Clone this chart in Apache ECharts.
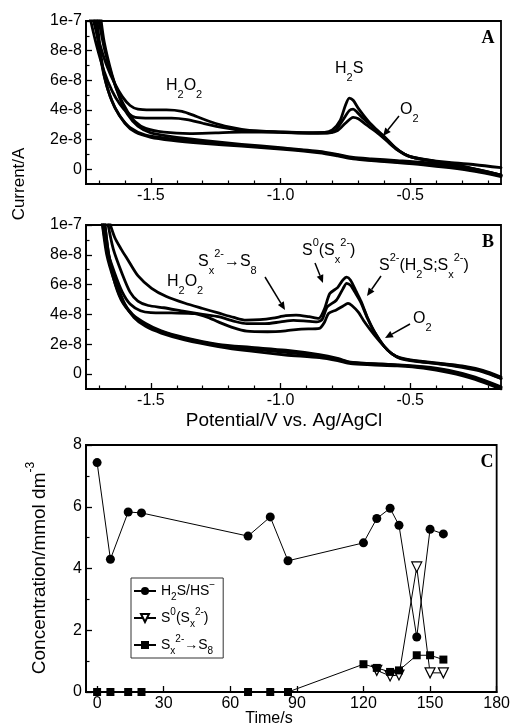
<!DOCTYPE html>
<html>
<head>
<meta charset="utf-8">
<script src="https://cdn.jsdelivr.net/npm/echarts@6/dist/echarts.min.js"></script>
<style>
html,body{margin:0;padding:0;background:#fff;}
#chart{width:513px;height:728px;}
</style>
</head>
<body>
<div id="chart"></div>
<script>
// ---------- DATA ----------
// Panels A and B: cyclic voltammograms, [potential V vs Ag/AgCl, current in units of 1e-8 A]
var cvA1Upper = [[-1.728,10.5],[-1.70,8.6],[-1.67,7.0],[-1.64,5.8],[-1.61,4.9],[-1.58,4.3],[-1.55,4.05],[-1.50,4.0],[-1.44,4.0],[-1.38,3.9],[-1.33,3.6],[-1.27,3.2],[-1.20,2.85],[-1.12,2.62],[-1.0,2.52],[-0.90,2.47],[-0.83,2.48],[-0.80,2.65],[-0.77,3.3],[-0.75,4.3],[-0.735,4.8],[-0.72,4.65],[-0.70,4.1],[-0.66,3.2],[-0.62,2.5],[-0.58,1.8],[-0.54,1.2],[-0.50,0.85],[-0.45,0.68],[-0.35,0.45],[-0.25,0.3],[-0.15,0.1]];
var cvA1Lower = [[-0.15,-0.45],[-0.25,-0.1],[-0.35,0.15],[-0.45,0.35],[-0.55,0.5],[-0.65,0.62],[-0.72,0.75],[-0.78,0.95],[-0.85,1.15],[-1.0,1.4],[-1.15,1.6],[-1.3,1.85],[-1.42,2.05],[-1.52,2.3],[-1.58,2.8],[-1.62,3.6],[-1.65,4.6],[-1.68,6.3],[-1.70,8.2],[-1.718,10.5]];
var cvA2Upper = [[-1.738,10.5],[-1.71,8.4],[-1.68,6.6],[-1.65,5.3],[-1.62,4.4],[-1.59,3.8],[-1.56,3.5],[-1.50,3.45],[-1.42,3.45],[-1.36,3.35],[-1.30,3.1],[-1.22,2.8],[-1.14,2.6],[-1.0,2.5],[-0.90,2.45],[-0.82,2.45],[-0.79,2.6],[-0.76,3.3],[-0.735,3.95],[-0.72,4.05],[-0.705,3.85],[-0.68,3.4],[-0.64,2.8],[-0.60,2.2],[-0.56,1.5],[-0.52,1.0],[-0.48,0.75],[-0.40,0.5],[-0.30,0.2],[-0.15,-0.4]];
var cvA2Lower = [[-0.15,-0.5],[-0.25,-0.15],[-0.35,0.1],[-0.45,0.3],[-0.55,0.45],[-0.65,0.58],[-0.72,0.7],[-0.78,0.9],[-0.85,1.1],[-1.0,1.35],[-1.15,1.55],[-1.3,1.75],[-1.42,1.95],[-1.50,2.15],[-1.56,2.5],[-1.60,3.1],[-1.64,4.2],[-1.67,5.6],[-1.69,7.4],[-1.71,10.5]];
var cvA3Upper = [[-1.705,10.5],[-1.68,8.2],[-1.65,6.3],[-1.62,4.9],[-1.59,3.9],[-1.56,3.2],[-1.52,2.75],[-1.45,2.5],[-1.35,2.4],[-1.25,2.45],[-1.15,2.5],[-1.0,2.48],[-0.88,2.42],[-0.81,2.45],[-0.78,2.6],[-0.75,3.1],[-0.72,3.5],[-0.70,3.4],[-0.67,3.0],[-0.63,2.5],[-0.59,1.9],[-0.55,1.3],[-0.51,0.9],[-0.46,0.7],[-0.38,0.45],[-0.28,0.1],[-0.15,-0.4]];
var cvA3Lower = [[-0.15,-0.4],[-0.25,0.0],[-0.35,0.25],[-0.45,0.45],[-0.55,0.58],[-0.65,0.7],[-0.72,0.8],[-0.78,1.0],[-0.85,1.2],[-1.0,1.45],[-1.15,1.68],[-1.3,1.95],[-1.42,2.2],[-1.50,2.45],[-1.55,2.9],[-1.59,3.7],[-1.62,4.8],[-1.65,6.4],[-1.68,8.6],[-1.695,10.5]];

var cvB1Upper = [[-1.665,10.5],[-1.64,9.2],[-1.615,8.4],[-1.59,7.7],[-1.55,6.6],[-1.497,5.75],[-1.44,5.2],[-1.368,4.75],[-1.30,4.4],[-1.24,4.1],[-1.18,3.8],[-1.134,3.62],[-1.08,3.65],[-1.03,3.75],[-0.98,3.92],[-0.94,3.96],[-0.89,3.85],[-0.853,3.74],[-0.83,4.4],[-0.81,5.4],[-0.78,5.8],[-0.76,6.3],[-0.745,6.5],[-0.73,6.3],[-0.71,5.6],[-0.69,4.9],[-0.665,3.8],[-0.64,2.9],[-0.60,1.85],[-0.57,1.35],[-0.54,1.1],[-0.48,0.9],[-0.40,0.75],[-0.30,0.55],[-0.22,0.25],[-0.15,-0.2]];
var cvB1Lower = [[-0.15,-0.9],[-0.25,-0.25],[-0.35,0.2],[-0.45,0.45],[-0.55,0.6],[-0.65,0.7],[-0.73,0.8],[-0.78,1.05],[-0.85,1.3],[-0.98,1.6],[-1.12,1.8],[-1.24,2.0],[-1.37,2.45],[-1.46,2.9],[-1.52,3.4],[-1.57,4.0],[-1.61,4.9],[-1.64,6.2],[-1.67,8.0],[-1.69,10.5]];
var cvB2Upper = [[-1.67,10.5],[-1.645,8.4],[-1.61,6.7],[-1.58,5.5],[-1.55,4.9],[-1.51,4.6],[-1.45,4.45],[-1.37,4.2],[-1.30,4.0],[-1.24,3.85],[-1.18,3.55],[-1.13,3.38],[-1.06,3.38],[-1.0,3.5],[-0.95,3.6],[-0.90,3.55],[-0.86,3.5],[-0.84,3.65],[-0.82,4.5],[-0.785,4.95],[-0.76,5.7],[-0.745,6.09],[-0.73,5.95],[-0.71,5.4],[-0.69,4.8],[-0.665,3.75],[-0.64,2.9],[-0.60,1.85],[-0.57,1.35],[-0.54,1.08],[-0.48,0.88],[-0.40,0.72],[-0.30,0.5],[-0.22,0.2],[-0.15,-0.3]];
var cvB2Lower = [[-0.15,-1.0],[-0.25,-0.35],[-0.35,0.1],[-0.45,0.4],[-0.55,0.55],[-0.65,0.62],[-0.73,0.7],[-0.78,0.9],[-0.85,1.1],[-0.98,1.28],[-1.12,1.55],[-1.24,1.85],[-1.37,2.3],[-1.46,2.75],[-1.52,3.2],[-1.565,3.8],[-1.60,4.7],[-1.63,6.0],[-1.66,7.8],[-1.68,10.5]];
var cvB3Upper = [[-1.69,10.5],[-1.67,8.4],[-1.64,6.8],[-1.61,5.5],[-1.58,4.7],[-1.54,4.25],[-1.50,4.12],[-1.42,4.1],[-1.33,4.05],[-1.28,3.8],[-1.24,3.5],[-1.18,3.1],[-1.13,2.88],[-1.05,2.84],[-0.98,2.9],[-0.92,3.02],[-0.85,3.07],[-0.83,3.5],[-0.815,4.07],[-0.785,4.3],[-0.76,4.55],[-0.74,4.74],[-0.725,4.6],[-0.70,4.15],[-0.68,3.6],[-0.655,3.0],[-0.63,2.45],[-0.60,1.85],[-0.57,1.35],[-0.54,1.05],[-0.48,0.85],[-0.40,0.7],[-0.30,0.45],[-0.22,0.15],[-0.15,-0.3]];
var cvB3Lower = [[-0.15,-0.85],[-0.25,-0.2],[-0.35,0.25],[-0.45,0.5],[-0.55,0.62],[-0.65,0.7],[-0.73,0.78],[-0.78,1.0],[-0.85,1.2],[-0.98,1.45],[-1.12,1.7],[-1.24,1.95],[-1.37,2.4],[-1.46,2.85],[-1.52,3.3],[-1.57,3.95],[-1.615,5.0],[-1.645,6.5],[-1.665,8.3],[-1.68,10.5]];

// Panel C: concentrations (mmol dm^-3) vs time (s)
var timeH2S = [0, 6, 14, 20, 68, 78, 86, 120, 126, 132, 136, 144, 150, 156];
var concH2S = [7.43, 4.3, 5.83, 5.8, 5.05, 5.67, 4.25, 4.83, 5.62, 5.95, 5.4, 1.78, 5.27, 5.12];
var timeS0 = [126, 132, 136, 144, 150, 156];
var concS0 = [0.7, 0.52, 0.55, 4.05, 0.62, 0.62];
var timeS8 = [0, 6, 14, 20, 68, 78, 86, 120, 126, 132, 136, 144, 150, 156];
var concS8 = [0, 0, 0, 0, 0, 0, 0, 0.9, 0.78, 0.65, 0.7, 1.19, 1.19, 1.05];

// tick values
var potentialMajorTicks = [-1.5, -1.0, -0.5];
var potentialMinorTicks = [-1.7, -1.6, -1.4, -1.3, -1.2, -1.1, -0.9, -0.8, -0.7, -0.6, -0.4, -0.3, -0.2];
var currentMajorTicks = [0, 2, 4, 6, 8, 10];
var currentMinorTicks = [1, 3, 5, 7, 9];
var currentTickLabels = {0: '0', 2: '2e-8', 4: '4e-8', 6: '6e-8', 8: '8e-8', 10: '1e-7'};
var timeTicks = [0, 30, 60, 90, 120, 150, 180];
var concMajorTicks = [0, 2, 4, 6, 8];
var concMinorTicks = [1, 3, 5, 7];

// ---------- CHART ----------
var chart = echarts.init(document.getElementById('chart'), null, {renderer: 'canvas'});
var FONT = '"Liberation Sans", Arial, Helvetica, sans-serif';
var SERIF = '"Liberation Serif", "Times New Roman", serif';

function zip(xs, ys) { return xs.map(function (x, i) { return [x, ys[i]]; }); }

var grids = [
  {left: 86, top: 21, width: 415, height: 163},
  {left: 86, top: 225, width: 415, height: 164},
  {left: 86, top: 445, width: 414, height: 247}
].map(function (g) {
  return Object.assign({show: true, borderColor: '#000', borderWidth: 1.8, backgroundColor: 'transparent'}, g);
});

function xMain(gi, min, max, labels, ticks, fmt) {
  return {
    type: 'value', gridIndex: gi, min: min, max: max, position: 'bottom',
    axisLine: {show: true, onZero: false, lineStyle: {color: '#000', width: 1.8}},
    axisTick: {show: true, inside: true, length: 6, customValues: ticks, lineStyle: {color: '#000', width: 1.3}},
    axisLabel: {show: true, customValues: labels, color: '#000', fontFamily: FONT, fontSize: 16, margin: 4, formatter: fmt},
    splitLine: {show: false}
  };
}
function xMinor(gi, min, max, ticks) {
  return {
    type: 'value', gridIndex: gi, min: min, max: max, position: 'bottom',
    axisLine: {show: false, onZero: false},
    axisTick: {show: true, inside: true, length: 3.5, customValues: ticks, lineStyle: {color: '#000', width: 1.2}},
    axisLabel: {show: false}, splitLine: {show: false}
  };
}
function yMain(gi, min, max, labels, fmt) {
  return {
    type: 'value', gridIndex: gi, min: min, max: max, position: 'left',
    axisLine: {show: true, onZero: false, lineStyle: {color: '#000', width: 1.8}},
    axisTick: {show: true, inside: true, length: 6, customValues: labels, lineStyle: {color: '#000', width: 1.3}},
    axisLabel: {show: true, customValues: labels, color: '#000', fontFamily: FONT, fontSize: 16, margin: 4, formatter: fmt},
    splitLine: {show: false}
  };
}
function yMinor(gi, min, max, ticks) {
  return {
    type: 'value', gridIndex: gi, min: min, max: max, position: 'left',
    axisLine: {show: false, onZero: false},
    axisTick: {show: true, inside: true, length: 3.5, customValues: ticks, lineStyle: {color: '#000', width: 1.2}},
    axisLabel: {show: false}, splitLine: {show: false}
  };
}

var potFmt = function (v) { return v.toFixed(1); };
var curFmt = function (v) { return currentTickLabels[Math.round(v)]; };

var xAxes = [
  xMain(0, -1.75, -0.15, potentialMajorTicks, potentialMajorTicks, potFmt),
  xMinor(0, -1.75, -0.15, potentialMinorTicks),
  xMain(1, -1.75, -0.15, potentialMajorTicks, potentialMajorTicks, potFmt),
  xMinor(1, -1.75, -0.15, potentialMinorTicks),
  xMain(2, -5, 180, timeTicks, timeTicks, function (v) { return String(v); })
];
var yAxes = [
  yMain(0, -1, 10, currentMajorTicks, curFmt),
  yMinor(0, -1, 10, currentMinorTicks),
  yMain(1, -1, 10, currentMajorTicks, curFmt),
  yMinor(1, -1, 10, currentMinorTicks),
  yMain(2, 0, 8, concMajorTicks, function (v) { return String(v); }),
  yMinor(2, 0, 8, concMinorTicks)
];

function cvSeries(data, gi) {
  return {
    type: 'line', xAxisIndex: gi * 2, yAxisIndex: gi * 2, data: data,
    showSymbol: false, symbol: 'none', smooth: 0.25, clip: true, silent: true,
    lineStyle: {color: '#000', width: 2.8, cap: 'round', join: 'round'},
    animation: false
  };
}

var series = [
  cvSeries(cvA1Upper, 0), cvSeries(cvA1Lower, 0),
  cvSeries(cvA2Upper, 0), cvSeries(cvA2Lower, 0),
  cvSeries(cvA3Upper, 0), cvSeries(cvA3Lower, 0),
  cvSeries(cvB1Upper, 1), cvSeries(cvB1Lower, 1),
  cvSeries(cvB2Upper, 1), cvSeries(cvB2Lower, 1),
  cvSeries(cvB3Upper, 1), cvSeries(cvB3Lower, 1),
  {
    name: 'h2s', type: 'line', xAxisIndex: 4, yAxisIndex: 4, data: zip(timeH2S, concH2S),
    symbol: 'circle', symbolSize: 9, clip: false,
    lineStyle: {color: '#000', width: 1}, itemStyle: {color: '#000'}, animation: false
  },
  {
    name: 's0', type: 'line', xAxisIndex: 4, yAxisIndex: 4, data: zip(timeS0, concS0),
    symbol: 'triangle', symbolRotate: 180, symbolSize: 10, clip: false,
    lineStyle: {color: '#000', width: 1}, itemStyle: {color: '#fff', borderColor: '#000', borderWidth: 1.2}, animation: false
  },
  {
    name: 's8', type: 'line', xAxisIndex: 4, yAxisIndex: 4, data: zip(timeS8, concS8),
    symbol: 'rect', symbolSize: 8, clip: false,
    lineStyle: {color: '#000', width: 1}, itemStyle: {color: '#000'}, animation: false
  }
];

function makeRich(main, small, lh, slh) {
  return {
    n: {fontFamily: FONT, fontSize: main, color: '#000', lineHeight: lh, verticalAlign: 'middle'},
    sub: {fontFamily: FONT, fontSize: small, color: '#000', lineHeight: slh, verticalAlign: 'bottom'},
    sup: {fontFamily: FONT, fontSize: small, color: '#000', lineHeight: slh, verticalAlign: 'top'}
  };
}
var richBase = makeRich(16, 11, 28, 16);
function rtext(x, y, text) {
  return {
    type: 'text', x: x, y: y, silent: true,
    style: {text: text, rich: richBase, fill: '#000', verticalAlign: 'middle', align: 'left'}
  };
}
function arrow(x1, y1, x2, y2) {
  var ang = Math.atan2(y2 - y1, x2 - x1), L = 8, W = 3.5;
  var bx = x2 - L * Math.cos(ang), by = y2 - L * Math.sin(ang);
  var px = -Math.sin(ang) * W, py = Math.cos(ang) * W;
  return [
    {type: 'line', silent: true, shape: {x1: x1, y1: y1, x2: bx, y2: by}, style: {stroke: '#000', lineWidth: 1.5}},
    {type: 'polygon', silent: true, shape: {points: [[x2, y2], [bx + px, by + py], [bx - px, by - py]]}, style: {fill: '#000'}}
  ];
}
function plain(x, y, text, size, family, weight, rot) {
  return {
    type: 'text', x: x, y: y, rotation: rot || 0, silent: true,
    style: {text: text, fontFamily: family, fontSize: size, fontWeight: weight || 'normal', fill: '#000', align: 'center', verticalAlign: 'middle'}
  };
}

var graphics = [];
// Panel A annotations
graphics.push(rtext(166, 86, '{n|H}{sub|2}{n|O}{sub|2}'));
graphics.push(rtext(335, 69, '{n|H}{sub|2}{n|S}'));
graphics.push(rtext(400, 110, '{n|O}{sub|2}'));
graphics = graphics.concat(arrow(399, 116, 383, 136));
graphics.push(plain(488, 38, 'A', 18, SERIF, 'bold'));
// Panel B annotations
graphics.push(rtext(167, 282, '{n|H}{sub|2}{n|O}{sub|2}'));
graphics.push(rtext(198, 262, '{n|S}{sub|x}{sup|2-}{n|→S}{sub|8}'));
graphics = graphics.concat(arrow(265, 277, 285, 310));
graphics.push(rtext(302, 251, '{n|S}{sup|0}{n|(S}{sub|x}{sup|2-}{n|)}'));
graphics = graphics.concat(arrow(315, 263, 323, 283));
graphics.push(rtext(379, 266, '{n|S}{sup|2-}{n|(H}{sub|2}{n|S;S}{sub|x}{sup|2-}{n|)}'));
graphics = graphics.concat(arrow(381, 276, 367, 296));
graphics.push(rtext(413, 319, '{n|O}{sub|2}'));
graphics = graphics.concat(arrow(410, 324, 385, 338));
graphics.push(plain(488, 242, 'B', 18, SERIF, 'bold'));
// Panel C letter
graphics.push(plain(487, 462, 'C', 18, SERIF, 'bold'));
// Axis titles
graphics.push(plain(19, 184, 'Current/A', 17, FONT, 'normal', Math.PI / 2));
graphics.push(plain(284, 421, 'Potential/V vs. Ag/AgCl', 19, FONT));
graphics.push(plain(269, 719, 'Time/s', 16, FONT));
graphics.push({
  type: 'text', x: 40, y: 568, rotation: Math.PI / 2, silent: true,
  style: {
    text: '{n|Concentration/mmol dm}{sup|-3}', align: 'center', verticalAlign: 'middle',
    rich: {
      n: {fontFamily: FONT, fontSize: 19, color: '#000', lineHeight: 30, verticalAlign: 'middle'},
      sup: {fontFamily: FONT, fontSize: 12, color: '#000', lineHeight: 16, verticalAlign: 'top'}
    }
  }
});

var legendRich = makeRich(14, 10, 22, 12);
var legendNames = {
  h2s: '{n|H}{sub|2}{n|S/HS}{sup|−}',
  s0: '{n|S}{sup|0}{n|(S}{sub|x}{sup|2-}{n|)}',
  s8: '{n|S}{sub|x}{sup|2-}{n|→S}{sub|8}'
};

chart.setOption({
  animation: false,
  backgroundColor: '#fff',
  grid: grids,
  xAxis: xAxes,
  yAxis: yAxes,
  series: series,
  legend: {
    data: ['h2s', 's0', 's8'],
    orient: 'vertical', left: 131, top: 578,
    borderColor: '#333', borderWidth: 1, backgroundColor: '#fff',
    padding: [2, 8, 2, 2], itemGap: 5, itemWidth: 22, itemHeight: 10,
    formatter: function (name) { return legendNames[name]; },
    textStyle: {rich: legendRich, fontFamily: FONT, fontSize: 14, color: '#000'},
    selectedMode: false
  },
  graphic: graphics
});
</script>
</body>
</html>
